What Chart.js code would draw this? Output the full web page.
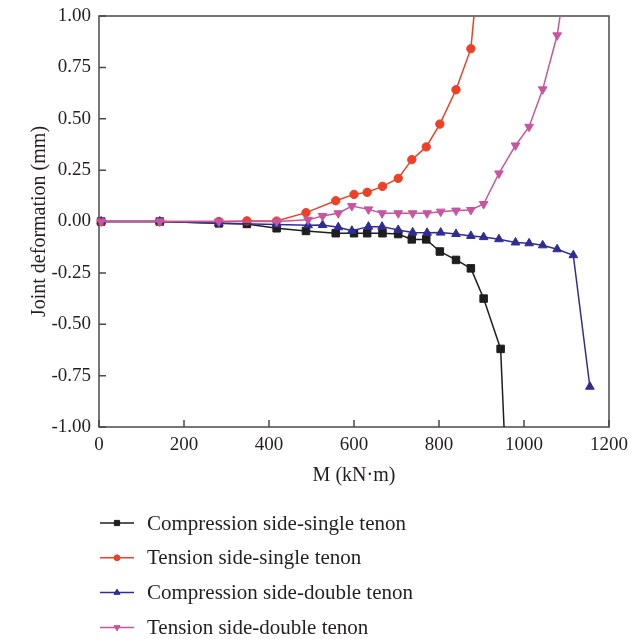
<!DOCTYPE html>
<html>
<head>
<meta charset="utf-8">
<title>Joint deformation</title>
<script src="https://cdn.jsdelivr.net/npm/chart.js@4.4.0/dist/chart.umd.min.js"></script>
<style>
  html, body { margin: 0; padding: 0; background: #fff; }
  #wrap { width: 639px; height: 639px; }
</style>
</head>
<body>
<div id="wrap"><canvas id="jointChart"></canvas></div>
<script>
// Bending moment steps, kN·m
const momentSingle = [5, 143, 282, 348, 418, 487, 557, 600, 631, 667, 704, 736, 770, 802, 840, 875, 905, 945, 960];
const momentDouble = [5, 143, 282, 418, 492, 526, 563, 595, 634, 666, 704, 738, 772, 804, 840, 875, 905, 941, 980, 1012, 1044, 1078, 1116, 1155];

// Joint deformation, mm (last points of some series run off the plot)
const compSingle = [0, 0, -0.009, -0.012, -0.033, -0.046, -0.057, -0.057, -0.057, -0.057, -0.061, -0.087, -0.087, -0.146, -0.187, -0.228, -0.375, -0.620, -1.33];
const tensSingle = [0, 0, 0, 0.003, 0.002, 0.043, 0.101, 0.132, 0.142, 0.171, 0.210, 0.301, 0.363, 0.474, 0.641, 0.841, 1.5];
const compDouble = [0, 0, -0.008, -0.014, -0.018, -0.017, -0.028, -0.045, -0.025, -0.025, -0.041, -0.053, -0.055, -0.054, -0.061, -0.070, -0.076, -0.086, -0.102, -0.106, -0.116, -0.135, -0.164, -0.804];
const tensDouble = [0, 0, 0, 0, 0.008, 0.027, 0.040, 0.075, 0.059, 0.040, 0.040, 0.040, 0.040, 0.048, 0.053, 0.056, 0.085, 0.234, 0.370, 0.461, 0.643, 0.906, 1.42];

const seriesNames = [
  'Compression side-single tenon',
  'Tension side-single tenon',
  'Compression side-double tenon',
  'Tension side-double tenon'
];

const xTicks = { min: 0, max: 1200, step: 200 };
const yTicks = { min: -1, max: 1, step: 0.25 };

const FONT = '"Liberation Serif", "Times New Roman", serif';
const INK = '#231f20';

function pairs(xs, ys) {
  return ys.map((v, i) => ({ x: xs[i], y: v }));
}

function series(label, xs, ys, color, style, radius, rotation, order) {
  return {
    label: label,
    data: pairs(xs, ys),
    borderColor: color,
    backgroundColor: color,
    pointBackgroundColor: color,
    pointBorderColor: color,
    borderWidth: 1.5,
    pointStyle: style,
    pointRadius: radius,
    pointRotation: rotation,
    pointBorderWidth: 1,
    tension: 0,
    order: order,
    clip: { left: 10, right: 10, top: 0, bottom: 0 }
  };
}

// frame with inward ticks, plus a one-per-row legend under the axes
const frameAndLegend = {
  id: 'frameAndLegend',
  beforeDatasetsDraw(chart) {
    const { ctx, chartArea: a, scales } = chart;
    ctx.save();
    ctx.strokeStyle = '#4a4a4a';
    ctx.lineWidth = 1.5;
    ctx.strokeRect(a.left, a.top, a.right - a.left, a.bottom - a.top);
    ctx.beginPath();
    scales.x.ticks.forEach(t => {
      const px = scales.x.getPixelForValue(t.value);
      ctx.moveTo(px, a.bottom);
      ctx.lineTo(px, a.bottom - 7);
    });
    scales.y.ticks.forEach(t => {
      const py = scales.y.getPixelForValue(t.value);
      ctx.moveTo(a.left, py);
      ctx.lineTo(a.left + 7, py);
    });
    ctx.stroke();
    ctx.restore();
  },
  afterDraw(chart) {
    const ctx = chart.ctx;
    const top = 523, gap = 34.8;
    ctx.save();
    chart.data.datasets.forEach((ds, i) => {
      const yy = top + i * gap;
      ctx.strokeStyle = ds.borderColor;
      ctx.fillStyle = ds.borderColor;
      ctx.lineWidth = 1.5;
      ctx.beginPath();
      ctx.moveTo(100, yy);
      ctx.lineTo(134, yy);
      ctx.stroke();
      ctx.lineWidth = 1;
      Chart.helpers.drawPoint(ctx, {
        pointStyle: ds.pointStyle,
        radius: ds.pointRadius * 0.7,
        rotation: ds.pointRotation,
        borderWidth: 1
      }, 117, yy);
      ctx.fillStyle = INK;
      ctx.font = '21px ' + FONT;
      ctx.textBaseline = 'middle';
      ctx.textAlign = 'left';
      ctx.fillText(ds.label, 147, yy + 1);
    });
    ctx.restore();
  }
};

const ctx = document.getElementById('jointChart').getContext('2d');
new Chart(ctx, {
  type: 'line',
  data: {
    datasets: [
      series(seriesNames[0], momentSingle, compSingle, '#1e1e1e', 'rect', 5.3, 0, 3),
      series(seriesNames[1], momentSingle, tensSingle, '#ec4127', 'circle', 4.2, 0, 2),
      series(seriesNames[2], momentDouble, compDouble, '#2f2d93', 'triangle', 5, 0, 1),
      series(seriesNames[3], momentDouble, tensDouble, '#c8559f', 'triangle', 5, 180, 0)
    ]
  },
  options: {
    responsive: true,
    maintainAspectRatio: false,
    animation: false,
    layout: { padding: { top: 16, right: 30, left: 0, bottom: 0 } },
    plugins: {
      legend: { display: false },
      tooltip: { enabled: false }
    },
    scales: {
      x: {
        type: 'linear',
        min: xTicks.min,
        max: xTicks.max,
        ticks: {
          stepSize: xTicks.step,
          padding: 7,
          color: INK,
          font: { family: FONT, size: 19 },
          callback: v => String(v)
        },
        grid: { display: false, drawTicks: false },
        border: { display: false },
        title: {
          display: true,
          text: 'M (kN·m)',
          color: INK,
          font: { family: FONT, size: 20 },
          padding: { top: 0, bottom: 151 }
        },
        afterFit(scale) { scale.height = 212; }
      },
      y: {
        type: 'linear',
        min: yTicks.min,
        max: yTicks.max,
        ticks: {
          stepSize: yTicks.step,
          padding: 8,
          color: INK,
          font: { family: FONT, size: 19 },
          callback: v => Number(v).toFixed(2)
        },
        grid: { display: false, drawTicks: false },
        border: { display: false },
        title: {
          display: true,
          text: 'Joint deformation (mm)',
          color: INK,
          font: { family: FONT, size: 20 },
          padding: { top: 28, bottom: 0 }
        },
        afterFit(scale) {
          scale.width = 99;
          scale.paddingTop = 0;
          scale.paddingBottom = 0;
        }
      }
    }
  },
  plugins: [frameAndLegend]
});
</script>
</body>
</html>
